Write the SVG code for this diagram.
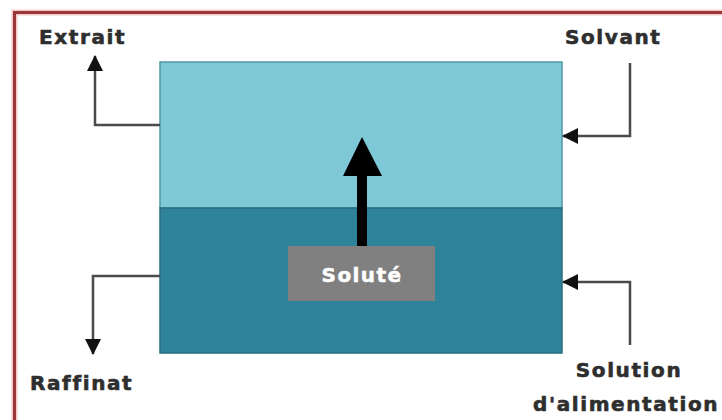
<svg xmlns="http://www.w3.org/2000/svg" width="722" height="420" viewBox="0 0 722 420">
  <defs>
    <marker id="head" markerWidth="16" markerHeight="16" refX="15" refY="8" orient="auto" markerUnits="userSpaceOnUse" viewBox="0 0 16 16">
      <path d="M0,0 L16,8 L0,16 z" fill="#111"/>
    </marker>
    <style>
      .lbl { font-family: "DejaVu Sans", "Liberation Sans", sans-serif; font-weight: bold; font-size: 20px; letter-spacing: 1.6px; fill: #2e2e2e; stroke: #2e2e2e; stroke-width: 0.6px; }
      .flow { fill: none; stroke: #4a4a4a; stroke-width: 2.5; }
    </style>
  </defs>
  <rect width="722" height="420" fill="#fff"/>
  <!-- outer frame -->
  <rect x="14.5" y="12.5" width="720" height="420" fill="none" stroke="#f4c8c8" stroke-width="6"/>
  <rect x="14.5" y="12.5" width="720" height="420" fill="none" stroke="#993838" stroke-width="3"/>

  <g id="vessel">
    <rect x="160" y="62" width="402" height="146" fill="#7fc8d8" stroke="#4f98a8" stroke-width="1.5"/>
    <rect x="160" y="208" width="402" height="145" fill="#2e8299" stroke="#2a6f80" stroke-width="1.5"/>
  </g>

  <g id="solute">
    <rect x="288" y="246" width="147" height="55" fill="#808080"/>
    <text x="362" y="282" text-anchor="middle" font-family="DejaVu Sans, Liberation Sans, sans-serif" font-weight="bold" font-size="20" letter-spacing="1.4" fill="#fff" stroke="#fff" stroke-width="0.5">Soluté</text>
    <rect x="357" y="172" width="10" height="74" fill="#000"/>
    <path d="M343,176 L362,137 L382,176 z" fill="#000"/>
  </g>

  <g id="connectors">
    <path class="flow" d="M160,125 H95 V56" marker-end="url(#head)"/>
    <path class="flow" d="M630,63 V136 H563" marker-end="url(#head)"/>
    <path class="flow" d="M160,276 H93 V354" marker-end="url(#head)"/>
    <path class="flow" d="M630,345 V282 H563" marker-end="url(#head)"/>
  </g>

  <g id="extrait"><text class="lbl" x="39" y="44">Extrait</text></g>
  <g id="solvant"><text class="lbl" x="565" y="44">Solvant</text></g>
  <g id="raffinat"><text class="lbl" x="30" y="390">Raffinat</text></g>
  <g id="alimentation">
    <text class="lbl" x="629" y="377" text-anchor="middle">Solution</text>
    <text class="lbl" x="533" y="411">d'alimentation</text>
  </g>
</svg>
